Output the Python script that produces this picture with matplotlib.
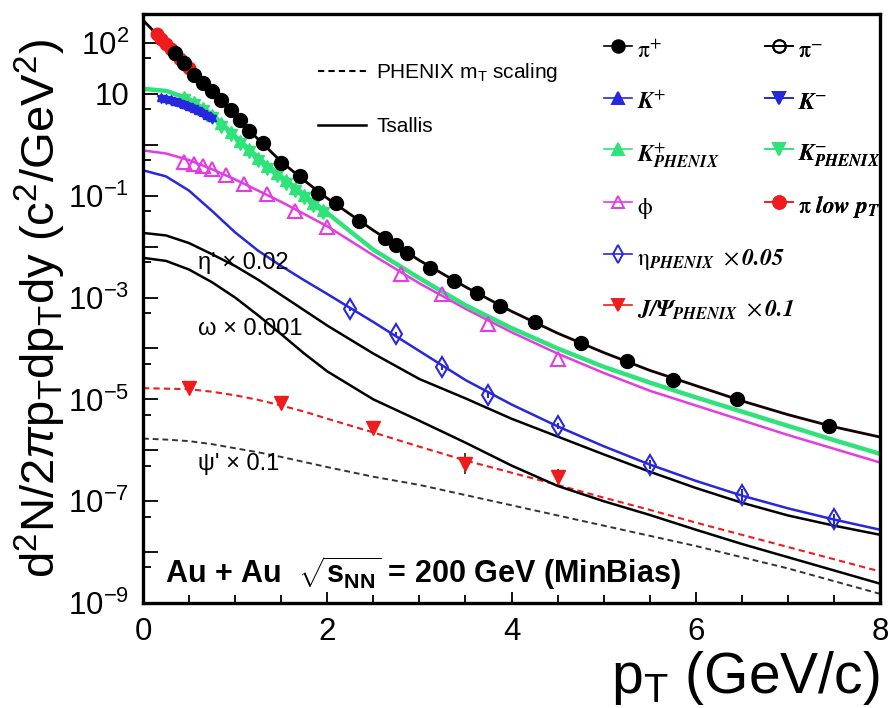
import numpy as np
import matplotlib
matplotlib.use("Agg")
import matplotlib.pyplot as plt
from matplotlib.lines import Line2D
from matplotlib.ticker import FixedLocator, FixedFormatter

plt.rcParams["font.family"] = ["Liberation Sans", "DejaVu Sans"]
plt.rcParams["mathtext.fontset"] = "custom"
plt.rcParams["mathtext.rm"] = "Liberation Sans"
plt.rcParams["mathtext.it"] = "Liberation Sans:italic"
plt.rcParams["mathtext.bf"] = "Liberation Sans:bold"

# spectra are kept as log10 of d2N/(2 pi pT dpT dy)
pt_curve = [0, 0.25, 0.5, 0.75, 1.0, 1.25, 1.5, 1.75, 2.0, 2.5, 3.0, 3.5,
            4.0, 4.5, 5.0, 5.5, 6.0, 6.5, 7.0, 7.5, 8.0]
pion_fit = [2.45, 1.98, 1.50, 1.03, 0.56, 0.11, -0.33, -0.70, -1.05, -1.68, -2.27,
            -2.79, -3.27, -3.70, -4.08, -4.43, -4.73, -5.03, -5.30, -5.54, -5.74]
kaon_fit = [1.10, 1.06, 0.90, 0.60, 0.17, -0.25, -0.62, -0.98, -1.34, -2.06, -2.62,
            -3.15, -3.60, -4.00, -4.36, -4.67, -4.96, -5.24, -5.52, -5.80, -6.07]
phi_fit = [-0.11, -0.17, -0.30, -0.48, -0.68, -0.90, -1.12, -1.36, -1.60, -2.17, -2.72,
           -3.22, -3.68, -4.10, -4.48, -4.83, -5.12, -5.41, -5.70, -5.97, -6.24]
eta_fit = [-0.50, -0.62, -0.90, -1.30, -1.72, -2.08, -2.38, -2.66, -2.93, -3.48, -4.05,
           -4.62, -5.10, -5.53, -5.92, -6.28, -6.60, -6.89, -7.14, -7.36, -7.56]
etap_fit = [-1.73, -1.78, -1.93, -2.15, -2.38, -2.65, -2.95, -3.25, -3.55, -4.10, -4.60,
            -4.98, -5.38, -5.73, -6.08, -6.42, -6.74, -7.03, -7.28, -7.48, -7.66]
omega_fit = [-2.22, -2.28, -2.45, -2.70, -3.00, -3.35, -3.72, -4.10, -4.45, -5.00, -5.42,
             -5.85, -6.30, -6.70, -7.00, -7.27, -7.56, -7.84, -8.10, -8.36, -8.62]
jpsi_mt = [-4.78, -4.79, -4.80, -4.85, -4.92, -5.01, -5.12, -5.24, -5.38, -5.65, -5.93,
           -6.20, -6.44, -6.68, -6.93, -7.17, -7.42, -7.66, -7.90, -8.14, -8.38]
psip_mt = [-5.77, -5.79, -5.82, -5.88, -5.96, -6.04, -6.13, -6.23, -6.33, -6.52, -6.68,
           -6.88, -7.08, -7.28, -7.48, -7.68, -7.88, -8.10, -8.32, -8.57, -8.82]

pion_pt = [0.35, 0.45, 0.55, 0.65, 0.75, 0.85, 0.95, 1.05, 1.15, 1.3, 1.5, 1.7, 1.9, 2.1,
           2.35, 2.63, 2.75, 2.87, 3.12, 3.38, 3.63, 3.87, 4.25, 4.75, 5.25, 5.75, 6.45, 7.45]
pion_y = [1.81, 1.60, 1.37, 1.21, 1.05, 0.88, 0.68, 0.48, 0.27, 0.03, -0.35, -0.62, -0.94,
          -1.14, -1.49, -1.83, -1.96, -2.12, -2.42, -2.67, -2.91, -3.17, -3.48, -3.90,
          -4.25, -4.61, -5.00, -5.53]

pilow_pt = [0.15, 0.2, 0.25, 0.3, 0.35, 0.4, 0.45, 0.5]
pilow_y = [2.18, 2.08, 1.98, 1.88, 1.78, 1.69, 1.59, 1.50]

kstar_pt = [0.2, 0.25, 0.3, 0.35, 0.4, 0.45, 0.5, 0.55, 0.6, 0.65, 0.7, 0.75]
kplus_y = [0.94, 0.92, 0.90, 0.87, 0.84, 0.81, 0.77, 0.73, 0.69, 0.64, 0.59, 0.54]
kminus_y = [0.91, 0.89, 0.86, 0.84, 0.81, 0.78, 0.74, 0.70, 0.66, 0.61, 0.56, 0.51]

kphx_pt = [0.45, 0.55, 0.65, 0.75, 0.85, 0.95, 1.05, 1.15, 1.25, 1.35, 1.45, 1.55,
           1.65, 1.75, 1.85, 1.95]
kphx_plus = [0.93, 0.84, 0.72, 0.58, 0.42, 0.25, 0.08, -0.09, -0.26, -0.41, -0.56,
             -0.70, -0.85, -0.99, -1.14, -1.28]
kphx_minus = [0.88, 0.78, 0.66, 0.52, 0.36, 0.19, 0.02, -0.15, -0.32, -0.47, -0.62,
              -0.76, -0.91, -1.05, -1.20, -1.34]

phi_pt = [0.45, 0.55, 0.65, 0.75, 0.9, 1.1, 1.35, 1.65, 2.0, 2.8, 3.25, 3.75, 4.5]
phi_y = [-0.33, -0.37, -0.41, -0.48, -0.60, -0.76, -0.96, -1.29, -1.61, -2.54, -2.93,
         -3.52, -4.21]

eta_pt = [2.25, 2.75, 3.25, 3.75, 4.5, 5.5, 6.5, 7.5]
eta_y = [-3.23, -3.72, -4.37, -4.92, -5.53, -6.28, -6.88, -7.35]
eta_err = [0.04, 0.05, 0.05, 0.06, 0.06, 0.08, 0.12, 0.10]

jpsi_pt = [0.5, 1.5, 2.5, 3.5, 4.5]
jpsi_y = [-4.78, -5.08, -5.57, -6.26, -6.52]
jpsi_err = [0.04, 0.05, 0.07, 0.20, 0.15]


def dex(v):
    return 10.0 ** np.asarray(v)


def log_err(v, e):
    v = np.asarray(v)
    e = np.asarray(e)
    return [dex(v) - dex(v - e), dex(v + e) - dex(v)]


c_blue = "#2727dd"
c_green = "#2fe27a"
c_mag = "#e23ce2"
c_red = "#ee1c1c"

fig = plt.figure(figsize=(8.88, 7.08), dpi=100)
ax = fig.add_axes([143 / 888, 105 / 708, 737 / 888, 589 / 708])

# fit curves
ax.plot(pt_curve, dex(psip_mt), color="#333333", lw=1.4, ls=(0, (3, 2)), zorder=2)
ax.plot(pt_curve, dex(jpsi_mt), color=c_red, lw=1.5, ls=(0, (3, 2)), zorder=2)
ax.plot(pt_curve, dex(omega_fit), color="black", lw=1.8, zorder=2)
ax.plot(pt_curve, dex(etap_fit), color="black", lw=1.8, zorder=2)
ax.plot(pt_curve, dex(eta_fit), color=c_blue, lw=1.8, zorder=2)
ax.plot(pt_curve, dex(phi_fit), color=c_mag, lw=1.8, zorder=2)
ax.plot(pt_curve, dex(kaon_fit), color=c_green, lw=3.2, zorder=2)
ax.plot(pt_curve, dex(pion_fit), color="#140000", lw=2.0, zorder=2)

# data points
ax.plot(kphx_pt, dex(kphx_plus), "^", color=c_green, ms=9, ls="none", zorder=3)
ax.plot(kphx_pt, dex(kphx_minus), "v", color=c_green, ms=9, ls="none", zorder=3)
ax.plot(kstar_pt, dex(kplus_y), "^", color=c_blue, ms=6, ls="none", zorder=3)
ax.plot(kstar_pt, dex(kminus_y), "v", color=c_blue, ms=6, ls="none", zorder=3)
ax.plot(phi_pt, dex(phi_y), "^", mfc="none", mec=c_mag, mew=1.5, ms=10, ls="none", zorder=3)
ax.errorbar(eta_pt, dex(eta_y), yerr=log_err(eta_y, eta_err), fmt="d", mfc="none",
            mec=c_blue, mew=1.5, ms=10, ecolor=c_blue, elinewidth=1.5, capsize=0, zorder=3)
ax.errorbar(jpsi_pt, dex(jpsi_y), yerr=log_err(jpsi_y, jpsi_err), fmt="v", color=c_red,
            ms=10, ecolor="#333333", elinewidth=1.3, capsize=0, zorder=3)
ax.plot(pion_pt, dex(pion_y), "o", color="black", ms=10, ls="none", zorder=4)
ax.plot(pilow_pt, dex(pilow_y), "o", color=c_red, ms=9, ls="none", zorder=3)

# axes
ax.set_yscale("log")
ax.set_xlim(0, 8)
ax.set_ylim(1e-9, 10 ** 2.57)
for s in ax.spines.values():
    s.set_linewidth(2.4)

decades = list(range(-9, 3))
dec_labels = {2: "$10^{2}$", 1: "10", -1: "$10^{-1}$", -3: "$10^{-3}$",
              -5: "$10^{-5}$", -7: "$10^{-7}$", -9: "$10^{-9}$"}
ax.yaxis.set_major_locator(FixedLocator([10.0 ** k for k in decades]))
ax.yaxis.set_major_formatter(FixedFormatter([dec_labels.get(k, "") for k in decades]))
ax.yaxis.set_minor_locator(FixedLocator([5 * 10.0 ** k for k in range(-10, 2)]))
ax.yaxis.set_minor_formatter(FixedFormatter([""] * 12))
ax.set_xticks([0, 2, 4, 6, 8])
ax.set_xticks(np.arange(0, 8.01, 0.5), minor=True)
ax.tick_params(which="both", direction="in", top=False, right=False, width=1.3,
               labelsize=22.5)
ax.tick_params(axis="x", which="major", length=8, pad=10)
ax.tick_params(axis="x", which="minor", length=6)
ax.tick_params(axis="y", which="major", length=11, pad=10)
ax.tick_params(axis="y", which="minor", length=6)

ax.set_ylabel(r"d$^2$N/2$\pi$p$_\mathrm{T}$dp$_\mathrm{T}$dy (c$^2$/GeV$^2$)", fontsize=34)
ax.yaxis.set_label_coords(-0.102, 0.5)
ax.set_xlabel(r"p$_\mathrm{T}$ (GeV/c)", fontsize=41, loc="right")
ax.xaxis.set_label_coords(1.0, -0.078)

# curve labels
ax.text(0.6, dex(-2.32), "η' × 0.02", fontsize=17, va="center")
ax.text(0.6, dex(-3.62), "ω × 0.001", fontsize=17, va="center")
ax.text(0.6, dex(-6.26), "ψ' × 0.1", fontsize=17, va="center")
ax.text(0.03, 0.05, r"Au + Au  $\sqrt{\mathbf{s}_{\mathbf{NN}}}$ = 200 GeV (MinBias)",
        transform=ax.transAxes, fontsize=22, fontweight="bold", va="center")

# line-style legend
style_handles = [Line2D([], [], color="black", lw=1.5, ls=(0, (3, 2))),
                 Line2D([], [], color="black", lw=1.8)]
leg_style = ax.legend(style_handles, [r"PHENIX m$_\mathrm{T}$ scaling", "Tsallis"],
                      loc="upper left", bbox_to_anchor=(0.2375, 0.92), frameon=False,
                      fontsize=15, handlelength=2.3, handletextpad=0.5,
                      labelspacing=1.6, borderpad=0, borderaxespad=0)
ax.add_artist(leg_style)


def key(color, marker, filled=True):
    return Line2D([], [], color=color, marker=marker, ms=9, lw=1.2,
                  mfc=color if filled else "none", mec=color, mew=1.4)


col1 = [key("black", "o"), key(c_blue, "^"), key(c_green, "^"), key(c_mag, "^", False),
        key(c_blue, "d", False), key(c_red, "v")]
col1_txt = [r"$\mathrm{\pi}^{+}$", r"$\mathbfit{K}^{+}$",
            r"$\mathbfit{K}^{+}_{\mathbfit{PHENIX}}$", r"$\mathrm{\phi}$",
            r"$\mathrm{\eta}_{\mathbfit{PHENIX}}\ \times\mathbfit{0.05}$",
            r"$\mathbfit{J/\Psi}_{\mathbfit{PHENIX}}\ \times\mathbfit{0.1}$"]
col2 = [key("black", "o", False), key(c_blue, "v"), key(c_green, "v"), key(c_red, "o")]
col2_txt = [r"$\mathrm{\pi}^{-}$", r"$\mathbfit{K}^{-}$",
            r"$\mathbfit{K}^{-}_{\mathbfit{PHENIX}}$",
            r"$\mathrm{\pi}\ \mathbfit{low\ p}_{\mathbfit{T}}$"]

for handles, labels, x0 in [(col1, col1_txt, 0.625), (col2, col2_txt, 0.844)]:
    lg = ax.legend(handles, labels, loc="upper left", bbox_to_anchor=(x0, 0.965),
                   frameon=False, fontsize=17, handlelength=1.2, handletextpad=0.2,
                   handleheight=1.6, labelspacing=0.9, borderpad=0, borderaxespad=0)
    for t in lg.get_texts():
        t.set_math_fontfamily("stix")
    ax.add_artist(lg)

fig.savefig("out.png", dpi=100)
